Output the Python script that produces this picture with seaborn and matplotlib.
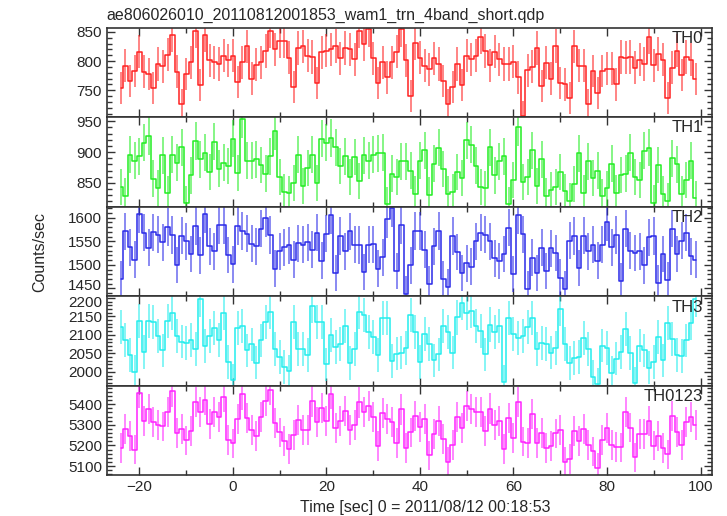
import numpy as np
import pandas as pd
import matplotlib
matplotlib.use("Agg")
import matplotlib.pyplot as plt
import matplotlib.transforms as mtransforms
import seaborn as sns
from matplotlib.ticker import MultipleLocator

# 1 s bins, centres in seconds after 2011/08/12 00:18:53
time = np.arange(-24, 100)

# count rates per band (counts/sec)
th0 = [754, 792, 766, 783, 816, 782, 778, 754, 795, 791,
       811, 845, 782, 726, 778, 798, 851, 759, 845, 801,
       798, 795, 809, 801, 809, 764, 798, 825, 770, 794,
       798, 817, 851, 820, 834, 835, 806, 755, 822, 825,
       809, 807, 763, 815, 818, 820, 826, 805, 822, 820,
       803, 851, 829, 854, 805, 762, 798, 772, 798, 816,
       854, 801, 740, 831, 806, 792, 786, 805, 795, 766,
       726, 755, 795, 759, 809, 803, 809, 841, 817, 793,
       816, 803, 795, 795, 799, 772, 706, 784, 790, 822,
       757, 797, 770, 826, 762, 760, 737, 825, 792, 792,
       726, 783, 746, 783, 787, 787, 760, 807, 806, 807,
       789, 802, 795, 841, 793, 812, 802, 737, 789, 818,
       776, 807, 802, 769]

th1 = [843, 829, 896, 886, 893, 915, 926, 857, 842, 895,
       833, 896, 883, 908, 817, 862, 918, 888, 899, 868,
       917, 873, 883, 877, 922, 866, 953, 886, 886, 888,
       879, 865, 893, 934, 860, 835, 833, 850, 896, 845,
       874, 896, 850, 922, 915, 923, 908, 877, 893, 859,
       892, 853, 895, 886, 896, 898, 899, 815, 865, 860,
       885, 885, 870, 832, 886, 903, 830, 881, 907, 872,
       832, 835, 868, 858, 919, 912, 878, 843, 841, 908,
       862, 885, 893, 815, 855, 941, 852, 859, 903, 845,
       888, 829, 839, 843, 868, 836, 821, 848, 898, 834,
       885, 858, 870, 828, 841, 881, 834, 863, 865, 899,
       859, 854, 902, 907, 818, 879, 832, 821, 890, 880,
       832, 854, 886, 825]

th2 = [1469, 1571, 1537, 1511, 1608, 1568, 1536, 1569, 1564, 1548,
       1580, 1563, 1500, 1562, 1550, 1523, 1582, 1520, 1608, 1539,
       1529, 1585, 1584, 1521, 1501, 1582, 1572, 1566, 1545, 1539,
       1577, 1599, 1563, 1492, 1529, 1537, 1541, 1511, 1546, 1543,
       1548, 1532, 1568, 1509, 1566, 1606, 1483, 1561, 1529, 1571,
       1543, 1542, 1485, 1543, 1544, 1492, 1516, 1597, 1620, 1487,
       1584, 1439, 1499, 1572, 1572, 1532, 1460, 1539, 1572, 1469,
       1452, 1561, 1527, 1482, 1503, 1496, 1550, 1568, 1564, 1550,
       1514, 1508, 1523, 1579, 1481, 1606, 1565, 1448, 1515, 1483,
       1536, 1487, 1535, 1525, 1473, 1448, 1551, 1561, 1493, 1562,
       1529, 1543, 1509, 1543, 1591, 1537, 1563, 1466, 1577, 1530,
       1525, 1529, 1499, 1558, 1561, 1462, 1523, 1468, 1577, 1523,
       1551, 1568, 1518, 1511]

th3 = [2121, 2087, 2045, 2000, 2138, 2054, 2138, 2134, 2096, 2058,
       2138, 2159, 2096, 2082, 2079, 2087, 2061, 2196, 2070, 2098,
       2118, 2087, 2159, 2027, 1978, 2118, 2125, 2058, 2074, 2025,
       2085, 2134, 2161, 2062, 2040, 2013, 2002, 2134, 2061, 2062,
       2045, 2179, 2134, 2134, 2020, 2100, 2067, 2076, 2125, 2024,
       2061, 2163, 2154, 2107, 2094, 2045, 2145, 2145, 2029, 2049,
       2052, 2064, 2154, 2109, 2027, 2103, 2076, 2031, 2047, 2125,
       2109, 2052, 2147, 2186, 2159, 2165, 2125, 2110, 2047, 2128,
       2107, 2125, 1973, 2145, 2103, 2091, 2096, 2121, 2145, 2061,
       2079, 2076, 2052, 2064, 2171, 2076, 2024, 2038, 2040, 2091,
       2061, 1987, 1966, 2071, 2064, 1997, 2036, 2054, 2116, 2051,
       1969, 2071, 2058, 2011, 2027, 2094, 2031, 2131, 2089, 2046,
       2043, 2085, 2132, 2196]

# TH0123 is the sum of the four bands
th0123 = np.array(th0) + np.array(th1) + np.array(th2) + np.array(th3)

bands = ["TH0", "TH1", "TH2", "TH3", "TH0123"]
rates = [th0, th1, th2, th3, th0123]
colors = ["#ff2020", "#22ee22", "#2a2ae8", "#22eeee", "#ff22ff"]
ylims = [(704, 857), (811, 956.5), (1433, 1623), (1962, 2204), (5054, 5489)]
ysteps = [(50, 10), (50, 10), (50, 10), (50, 10), (100, 20)]

sns.set_style("ticks")
plt.rcParams["font.family"] = ["Liberation Sans", "DejaVu Sans"]
plt.rcParams["font.size"] = 11

fig, axes = plt.subplots(5, 1, sharex=True, figsize=(7.27, 5.16), dpi=100)
fig.subplots_adjust(left=0.1468, right=0.979, top=0.9463, bottom=0.0785, hspace=0)

for ax, name, vals, col, ylim, (maj, mnr) in zip(axes, bands, rates, colors, ylims, ysteps):
    vals = np.asarray(vals, dtype=float)
    df = pd.DataFrame({"time": time, "rate": vals})
    # Poisson errors for 1 s bins
    ax.errorbar(df["time"], df["rate"], yerr=np.sqrt(df["rate"]), fmt="none",
                ecolor=col, alpha=0.55, elinewidth=1.4)
    sns.lineplot(data=df, x="time", y="rate", ax=ax, color=col, lw=1.1,
                 drawstyle="steps-mid", errorbar=None)
    ax.set_xlim(-27, 102.4)
    ax.set_ylim(*ylim)
    ax.set_xlabel("")
    ax.set_ylabel("")
    ax.yaxis.set_major_locator(MultipleLocator(maj))
    ax.yaxis.set_minor_locator(MultipleLocator(mnr))
    ax.xaxis.set_major_locator(MultipleLocator(20))
    ax.xaxis.set_minor_locator(MultipleLocator(10))
    ax.tick_params(which="both", direction="in", top=True, right=True,
                   color="#333333", width=1.0)
    ax.tick_params(which="major", length=6, labelsize=11)
    ax.tick_params(which="minor", length=3.5)
    for sp in ax.spines.values():
        sp.set_color("#333333")
        sp.set_linewidth(1.2)
    ax.text(0.985, 0.965, name, transform=ax.transAxes, ha="right", va="top",
            fontsize=12)

fig.text(0.1468, 1 - 15.5 / 516, "ae806026010_20110812001853_wam1_trn_4band_short.qdp",
         ha="left", va="center", fontsize=11.5)
fig.text(0.055, 0.5124, "Counts/sec", rotation=90, ha="center", va="center", fontsize=11.5)
fig.text(0.585, 0.0174, "Time [sec] 0 = 2011/08/12 00:18:53", ha="center", va="center",
         fontsize=11.5)

# nudge the two tick labels that meet at the TH2/TH3 boundary apart a little
fig.canvas.draw()
for lab in axes[2].get_yticklabels():
    if lab.get_text() == "1450":
        lab.set_transform(lab.get_transform() +
                          mtransforms.ScaledTranslation(0, 4 / 100, fig.dpi_scale_trans))
for lab in axes[3].get_yticklabels():
    if lab.get_text() == "2200":
        lab.set_transform(lab.get_transform() +
                          mtransforms.ScaledTranslation(0, -4 / 100, fig.dpi_scale_trans))

fig.savefig("out.png", dpi=100)
